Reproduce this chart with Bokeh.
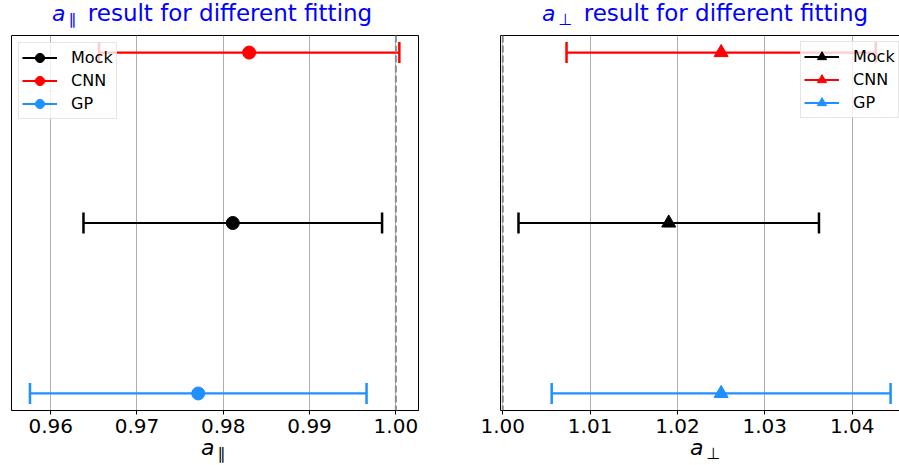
import math
from bokeh.plotting import figure
from bokeh.models import (Range1d, FixedTicker, NumeralTickFormatter, Span, Div,
                          Legend, LegendItem, ColumnDataSource, LinearAxis)
from bokeh.layouts import row, column
from bokeh.embed import file_html
from bokeh.resources import INLINE

# ---- data ----
methods = ["Mock", "CNN", "GP"]
row_pos = [2, 3, 1]
colors = ["black", "red", "#1e90ff"]
a_par = [0.9811, 0.9830, 0.9771]
a_par_err = [0.0173, 0.0174, 0.0195]
a_perp = [1.0190, 1.0250, 1.0250]
a_perp_err = [0.0172, 0.0177, 0.0194]
ref_value = 1.0
par_ticks = [0.96, 0.97, 0.98, 0.99, 1.00]
par_tick_labels = ["0.96", "0.97", "0.98", "0.99", "1.00"]
perp_ticks = [1.00, 1.01, 1.02, 1.03, 1.04]
perp_tick_labels = ["1.00", "1.01", "1.02", "1.03", "1.04"]
title_text = "result for different fitting"
par_sub = "\u2225"
perp_sub = "\u22a5"

FONT = "DejaVu Sans"
FIG_H = 418


def make_panel(vals, errs, ticks, tick_labels, xr, marker, width, borders, legend_loc):
    bl, br = borders
    p = figure(width=width, height=FIG_H, x_range=Range1d(*xr), y_range=Range1d(0.9, 3.1),
               output_backend="svg", toolbar_location=None,
               min_border_left=bl, min_border_right=br, min_border_top=8, min_border_bottom=35)
    p.background_fill_color = "white"
    p.border_fill_color = "white"
    src = ColumnDataSource(dict(
        y=row_pos, x=vals,
        lo=[v - e for v, e in zip(vals, errs)],
        hi=[v + e for v, e in zip(vals, errs)],
        color=colors, label=methods))
    seg = p.segment(x0="lo", x1="hi", y0="y", y1="y", line_color="color", line_width=2.2, source=src)
    p.scatter(x="lo", y="y", marker="dash", angle=math.pi / 2, size=21, line_color="color",
              line_width=2.5, source=src)
    p.scatter(x="hi", y="y", marker="dash", angle=math.pi / 2, size=21, line_color="color",
              line_width=2.5, source=src)
    mk = p.scatter(x="x", y="y", marker=marker, size=13 if marker == "circle" else 14,
                   fill_color="color", line_color="color", source=src)
    p.add_layout(Span(location=ref_value, dimension="height", line_color="#8c8c8c",
                      line_dash="7 3", line_width=2))

    p.xaxis.ticker = FixedTicker(ticks=ticks)
    p.xaxis.formatter = NumeralTickFormatter(format="0.00")
    p.xaxis.major_label_overrides = dict(zip(ticks, tick_labels))
    p.xaxis.minor_tick_line_color = None
    p.xaxis.major_tick_in = 0
    p.xaxis.major_tick_out = 4
    p.xaxis.major_label_standoff = 4
    p.xaxis.major_label_text_font = FONT
    p.xaxis.major_label_text_font_size = "20px"
    p.xaxis.major_label_text_color = "black"
    p.xaxis.axis_line_color = "black"
    p.xaxis.major_tick_line_color = "black"
    p.xgrid.ticker = FixedTicker(ticks=ticks)
    p.xgrid.grid_line_color = "#b0b0b0"
    p.ygrid.visible = False

    legend = Legend(items=[LegendItem(label=m, renderers=[seg, mk], index=i)
                           for i, m in enumerate(methods)],
                    location=legend_loc, label_text_font=FONT, label_text_font_size="16px",
                    label_text_color="black",
                    glyph_width=35, glyph_height=23, spacing=0, padding=3, margin=7,
                    label_standoff=14, label_height=23,
                    border_line_color="#cccccc", border_line_width=1,
                    background_fill_alpha=0.8)
    p.add_layout(legend)
    return p


def title_div(sub, width, pad_left):
    html = ('<span style="font-style:italic;font-size:22px">a</span>'
            '<span style="font-size:16px;position:relative;top:4px;margin-left:3px;margin-right:4px">'
            + sub + '</span> ' + title_text)
    return Div(text=html, width=width, height=27, margin=0,
               styles={"font-family": FONT, "font-size": "23px", "color": "blue",
                       "line-height": "27px", "padding-left": f"{pad_left}px",
                       "white-space": "nowrap", "box-sizing": "border-box"})


def xlabel_div(sub, width, pad_left):
    html = ('<span style="font-style:italic;font-size:22px">a</span>'
            '<span style="font-size:16px;position:relative;top:4px;margin-left:3px">'
            + sub + '</span>')
    return Div(text=html, width=width, height=20, margin=0,
               styles={"font-family": FONT, "font-size": "22px", "color": "black",
                       "line-height": "20px", "padding-left": f"{pad_left}px",
                       "position": "relative", "top": "-7px",
                       "white-space": "nowrap", "box-sizing": "border-box"})


left = make_panel(a_par, a_par_err, par_ticks, par_tick_labels, (0.95546, 1.00262),
                  "circle", 450, (11, 32), "top_left")
left.yaxis.visible = False
left.outline_line_color = "black"
left.outline_line_width = 1
left.outline_line_alpha = 1

right = make_panel(a_perp, a_perp_err, perp_ticks, perp_tick_labels, (0.99974, 1.04542),
                   "triangle", 449, (50, 0), (300, 292))
right.outline_line_color = None
right.yaxis.ticker = FixedTicker(ticks=[])
right.yaxis.minor_tick_line_color = None
right.yaxis.axis_line_color = "black"
top_axis = LinearAxis(ticker=FixedTicker(ticks=[]), minor_tick_line_color=None,
                      axis_line_color="black")
right.add_layout(top_axis, "above")

left_col = column(title_div(par_sub, 450, 52), left, xlabel_div(par_sub, 450, 201), spacing=0)
right_col = column(title_div(perp_sub, 449, 92), right, xlabel_div(perp_sub, 449, 240), spacing=0)
layout = row(left_col, right_col, spacing=0)

open("out.html", "w").write(file_html(layout, INLINE))
